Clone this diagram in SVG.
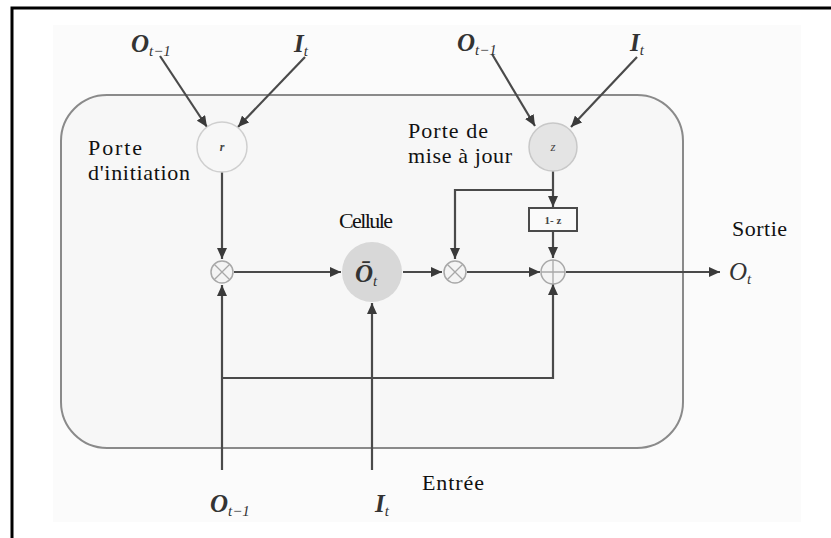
<svg xmlns="http://www.w3.org/2000/svg" width="831" height="538" viewBox="0 0 831 538">
<style>
.lbl{font-family:"Liberation Serif","Times New Roman",serif;font-size:22px;fill:#111}
.m{font-family:"Liberation Serif","Times New Roman",serif;font-size:25px;font-weight:bold;font-style:italic;fill:#333}
.sub{font-size:15px;font-weight:normal}
.c{fill:none;stroke:#4a4a4a;stroke-width:2.2}
.op{fill:#f4f4f4;stroke:#a8a8a8;stroke-width:1.5}
.opl{stroke:#a8a8a8;stroke-width:1.3}
</style>
<defs>
<marker id="ah" markerUnits="userSpaceOnUse" markerWidth="12" markerHeight="10" refX="11" refY="5" orient="auto">
<path d="M0,0 L11,5 L0,10 z" fill="#3a3a3a"/>
</marker>
</defs>
<rect width="831" height="538" fill="#ffffff"/>
<rect x="53" y="25" width="748" height="497" fill="#fbfbfb"/>
<path d="M12,538 V8 H831" fill="none" stroke="#000" stroke-width="3"/>
<rect id="cell-box" x="61" y="95" width="622" height="353" rx="46" ry="46" fill="#f7f7f7" stroke="#8a8a8a" stroke-width="2"/>

<g id="connectors">
<path class="c" d="M160,56 L207,127" marker-end="url(#ah)"/>
<path class="c" d="M305,57 L238,127" marker-end="url(#ah)"/>
<path class="c" d="M492,54 L535,126" marker-end="url(#ah)"/>
<path class="c" d="M637,57 L571,127" marker-end="url(#ah)"/>
<path class="c" d="M222,172 V259" marker-end="url(#ah)"/>
<path class="c" d="M222,470 V285" marker-end="url(#ah)"/>
<path class="c" d="M222,378 H553 V284" marker-end="url(#ah)"/>
<path class="c" d="M372,470 V303" marker-end="url(#ah)"/>
<path class="c" d="M234,272 H341" marker-end="url(#ah)"/>
<path class="c" d="M403,272 H442" marker-end="url(#ah)"/>
<path class="c" d="M467,272 H540" marker-end="url(#ah)"/>
<path class="c" d="M566,272 H720" marker-end="url(#ah)"/>
<path class="c" d="M553,171 V207" marker-end="url(#ah)"/>
<path class="c" d="M553,190 H455 V259" marker-end="url(#ah)"/>
<path class="c" d="M553,232 V258" marker-end="url(#ah)"/>
</g>

<g id="gate-r">
<circle cx="222" cy="147" r="25" fill="#f7f7f7" stroke="#cfcfcf" stroke-width="1.5"/>
<text x="222" y="151" text-anchor="middle" font-family="Liberation Serif, serif" font-style="italic" font-weight="bold" font-size="12" fill="#444">r</text>
</g>
<g id="gate-z">
<circle cx="553" cy="147" r="24" fill="#e4e4e4" stroke="#c8c8c8" stroke-width="1.5"/>
<text x="553" y="151" text-anchor="middle" font-family="Liberation Serif, serif" font-style="italic" font-size="13" fill="#444">z</text>
</g>
<g id="cell">
<circle cx="372" cy="272" r="30" fill="#d8d8d8"/>
<text class="m" x="355" y="282">Ō<tspan class="sub" dy="4">t</tspan></text>
</g>
<g id="mult1">
<circle class="op" cx="222" cy="272" r="11"/>
<path class="opl" d="M214.2,264.2 L229.8,279.8 M229.8,264.2 L214.2,279.8"/>
</g>
<g id="mult2">
<circle class="op" cx="455" cy="272" r="11"/>
<path class="opl" d="M447.2,264.2 L462.8,279.8 M462.8,264.2 L447.2,279.8"/>
</g>
<g id="plus">
<circle class="op" cx="553" cy="272" r="12"/>
<path class="opl" d="M553,260 V284 M541,272 H565"/>
</g>
<g id="one-minus-z">
<rect x="529" y="208" width="48" height="23" fill="#fafafa" stroke="#4a4a4a" stroke-width="2"/>
<text x="553" y="224" text-anchor="middle" font-family="Liberation Serif, serif" font-weight="bold" font-size="11" fill="#444">1- z</text>
</g>

<g id="labels">
<text class="lbl" x="88" y="155" textLength="54">Porte</text>
<text class="lbl" x="88" y="180" textLength="102">d'initiation</text>
<text class="lbl" x="408" y="138" textLength="80">Porte de</text>
<text class="lbl" x="408" y="163" textLength="104">mise à jour</text>
<text class="lbl" x="339" y="228" textLength="54">Cellule</text>
<text class="lbl" x="732" y="236" textLength="55">Sortie</text>
<text class="lbl" x="422" y="490" textLength="62">Entrée</text>
</g>
<g id="inputs">
<text class="m" x="131" y="52">O<tspan class="sub" dy="4">t−1</tspan></text>
<text class="m" x="294" y="52">I<tspan class="sub" dy="4">t</tspan></text>
<text class="m" x="457" y="51">O<tspan class="sub" dy="4">t−1</tspan></text>
<text class="m" x="630" y="51">I<tspan class="sub" dy="4">t</tspan></text>
<text class="m" x="210" y="512">O<tspan class="sub" dy="4">t−1</tspan></text>
<text class="m" x="375" y="512">I<tspan class="sub" dy="4">t</tspan></text>
<text class="m" x="729" y="280" style="font-weight:normal">O<tspan class="sub" dy="4">t</tspan></text>
</g>
</svg>
